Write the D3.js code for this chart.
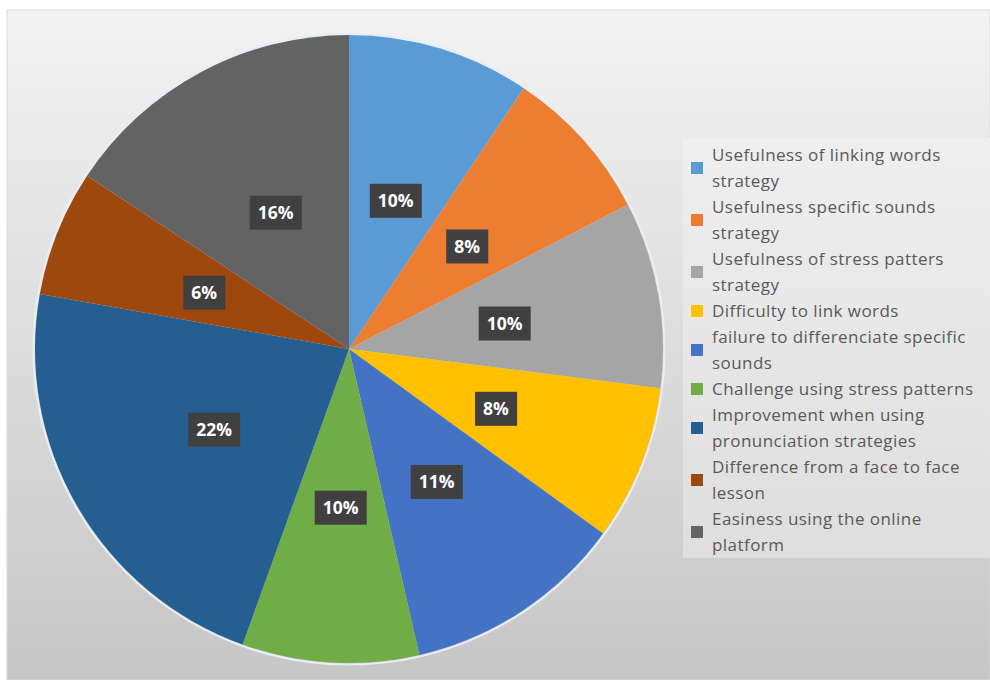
<!DOCTYPE html>
<html><head><meta charset="utf-8">
<script src="https://cdn.jsdelivr.net/npm/d3@7"></script>
<style>html,body{margin:0;padding:0;background:#fff;}svg{display:block;}</style>
</head><body>
<script>
const categories = [
  "Usefulness of linking words strategy",
  "Usefulness specific sounds strategy",
  "Usefulness of stress patters strategy",
  "Difficulty to link words",
  "failure to differenciate specific sounds",
  "Challenge using stress patterns",
  "Improvement when using pronunciation strategies",
  "Difference from a face to face lesson",
  "Easiness using the online platform"
];
const values = [9.4, 8.0, 9.6, 8.0, 11.4, 9.1, 22.3, 6.5, 15.7];
const labels = ["10%", "8%", "10%", "8%", "11%", "10%", "22%", "6%", "16%"];
const legendLines = [
  ["Usefulness of linking words", "strategy"],
  ["Usefulness specific sounds", "strategy"],
  ["Usefulness of stress patters", "strategy"],
  ["Difficulty to link words"],
  ["failure to differenciate specific", "sounds"],
  ["Challenge using stress patterns"],
  ["Improvement when using", "pronunciation strategies"],
  ["Difference from a face to face", "lesson"],
  ["Easiness using the online", "platform"]
];
const colors = ["#5B9BD5","#ED7D31","#A5A5A5","#FFC000","#4472C4","#70AD47","#255E91","#9E480E","#636363"];

const W = 990, H = 680;
const svg = d3.select("body").append("svg").attr("width", W).attr("height", H);
const defs = svg.append("defs");
const bg = defs.append("linearGradient").attr("id","bg").attr("x1",0).attr("y1",0).attr("x2",0).attr("y2",1);
bg.append("stop").attr("offset","0%").attr("stop-color","#f3f3f3");
bg.append("stop").attr("offset","100%").attr("stop-color","#c6c6c6");
const lg = defs.append("linearGradient").attr("id","lg").attr("x1",0).attr("y1",0).attr("x2",0).attr("y2",1);
lg.append("stop").attr("offset","0%").attr("stop-color","#efefef");
lg.append("stop").attr("offset","100%").attr("stop-color","#dedede");

svg.append("rect").attr("x",7).attr("y",10).attr("width",W-7).attr("height",H-10)
  .attr("fill","url(#bg)").attr("stroke","#d9d9d9").attr("stroke-width",1);

// legend background
svg.append("rect").attr("x",683).attr("y",138).attr("width",W-683).attr("height",420).attr("fill","url(#lg)");

const cx = 349, cy = 349, R = 314;
const pie = d3.pie().sort(null).value(d => d)(values);
const arc = d3.arc().innerRadius(0).outerRadius(R);
const labelArc = d3.arc().innerRadius(R*0.5).outerRadius(R*0.5);
const g = svg.append("g").attr("transform",`translate(${cx},${cy})`);
g.append("circle").attr("r",R+1.5).attr("fill","none").attr("stroke","#e8eef5").attr("stroke-width",2);
g.selectAll("path.slice").data(pie).enter().append("path").attr("class","slice")
  .attr("d", arc).attr("fill",(d,i)=>colors[i]);

const lab = g.selectAll("g.lab").data(pie).enter().append("g").attr("class","lab")
  .attr("transform", d => { const c = labelArc.centroid(d); return `translate(${c[0]+1},${c[1]+2})`; });
lab.append("text").attr("text-anchor","middle").attr("dy","0.36em")
  .attr("font-family","'Open Sans', sans-serif").attr("font-weight","bold").attr("font-size",17.5)
  .attr("fill","#fff").text((d,i)=>labels[i]);
lab.each(function(){
  const t = d3.select(this).select("text");
  const b = t.node().getBBox();
  d3.select(this).insert("rect","text").attr("x",b.x-8).attr("y",-17).attr("width",b.width+16).attr("height",34)
    .attr("fill","#404040");
});

// legend
const lineH = 26, textX = 712, startY = 155;
let row = 0;
const leg = svg.append("g");
legendLines.forEach((lines, i) => {
  const y0 = startY + row*lineH;
  const midY = y0 + (lines.length-1)*lineH/2;
  leg.append("rect").attr("x",691).attr("y",midY-6).attr("width",12).attr("height",12).attr("fill",colors[i]);
  lines.forEach((ln, j) => {
    leg.append("text").attr("x",textX).attr("y",y0 + j*lineH).attr("dy","0.35em")
      .attr("font-family","'Open Sans', sans-serif").attr("font-size",17).attr("letter-spacing","0.45px")
      .attr("fill","#595959").text(ln);
  });
  row += lines.length;
});
</script>
</body></html>
